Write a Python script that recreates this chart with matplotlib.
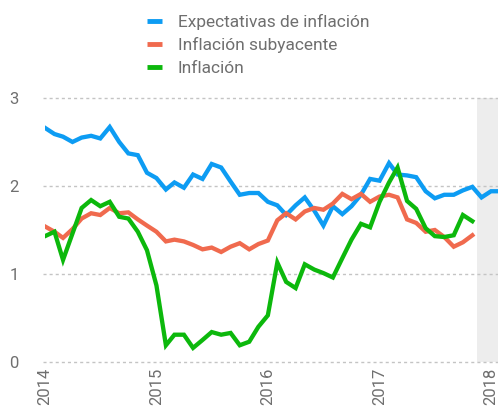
import matplotlib
matplotlib.use("Agg")
import matplotlib.pyplot as plt
import matplotlib.dates as mdates
import pandas as pd

# monthly data, Jan 2014 onwards
expectativas = [2.66, 2.59, 2.56, 2.50, 2.55, 2.57, 2.54, 2.67, 2.50, 2.37, 2.35, 2.15,
                2.09, 1.96, 2.04, 1.98, 2.13, 2.08, 2.25, 2.21, 2.05, 1.90, 1.92, 1.92,
                1.82, 1.78, 1.67, 1.78, 1.87, 1.72, 1.55, 1.77, 1.68, 1.77, 1.90, 2.08,
                2.06, 2.26, 2.13, 2.12, 2.10, 1.94, 1.86, 1.90, 1.90, 1.95, 1.99, 1.87,
                1.94, 1.94]
subyacente = [1.54, 1.48, 1.41, 1.51, 1.63, 1.69, 1.67, 1.75, 1.69, 1.70, 1.62, 1.55,
              1.48, 1.37, 1.39, 1.37, 1.33, 1.28, 1.30, 1.25, 1.31, 1.35, 1.28, 1.34,
              1.38, 1.61, 1.69, 1.62, 1.71, 1.75, 1.73, 1.80, 1.91, 1.85, 1.91, 1.82,
              1.88, 1.90, 1.87, 1.62, 1.58, 1.48, 1.50, 1.42, 1.31, 1.36, 1.44]
inflacion = [1.43, 1.48, 1.16, 1.46, 1.75, 1.84, 1.77, 1.82, 1.65, 1.63, 1.48, 1.27,
             0.87, 0.19, 0.31, 0.31, 0.16, 0.25, 0.34, 0.31, 0.33, 0.19, 0.23, 0.40,
             0.53, 1.13, 0.91, 0.84, 1.11, 1.05, 1.01, 0.96, 1.18, 1.39, 1.57, 1.53,
             1.82, 2.04, 2.21, 1.83, 1.74, 1.52, 1.43, 1.42, 1.44, 1.67, 1.60]

labels = ["Expectativas de inflación", "Inflación subyacente", "Inflación"]
colors = ["#0d9cf3", "#f06a4e", "#0cb80c"]

plt.rcParams["font.family"] = ["Roboto", "DejaVu Sans"]

fig = plt.figure(figsize=(4.98, 4.07), dpi=100)
ax = fig.add_axes([0.0904, 0.1106, 0.9096, 0.6487])

start = pd.Timestamp("2014-01-01")
for vals, lab, c in zip([expectativas, subyacente, inflacion], labels, colors):
    d = pd.date_range(start, periods=len(vals), freq="MS")
    ax.plot(d, vals, color=c, lw=3.1, label=lab, solid_joinstyle="miter")

ax.axvspan(pd.Timestamp("2017-11-15"), pd.Timestamp("2018-03-01"), color="#ededed", zorder=0, lw=0)

ax.set_xlim(start, pd.Timestamp("2018-01-24"))
ax.set_ylim(0, 3)
ax.set_yticks([0, 1, 2, 3])
ax.xaxis.set_major_locator(mdates.YearLocator())
ax.xaxis.set_major_formatter(mdates.DateFormatter("%Y"))

for y in [0, 1, 2, 3]:
    ax.axhline(y, color="#c4c4c4", lw=1, ls=(0, (2.2, 2.2)), zorder=0.5, xmin=-0.005, clip_on=False)

for s in ax.spines.values():
    s.set_visible(False)
ax.tick_params(axis="both", length=0, colors="#6f6f6f", labelsize=12)
ax.tick_params(axis="y", pad=19)
ax.tick_params(axis="x", pad=4, labelrotation=90)

leg = fig.legend(loc="upper left", bbox_to_anchor=(0.263, 1.005), frameon=False,
                 handlelength=0.9, handletextpad=0.9, labelspacing=0.45, fontsize=12.5,
                 labelcolor="#6f6f6f")
for h in leg.get_lines():
    h.set_linewidth(3.5)
    h.set_solid_capstyle("butt")

fig.savefig("out.png", dpi=100)
